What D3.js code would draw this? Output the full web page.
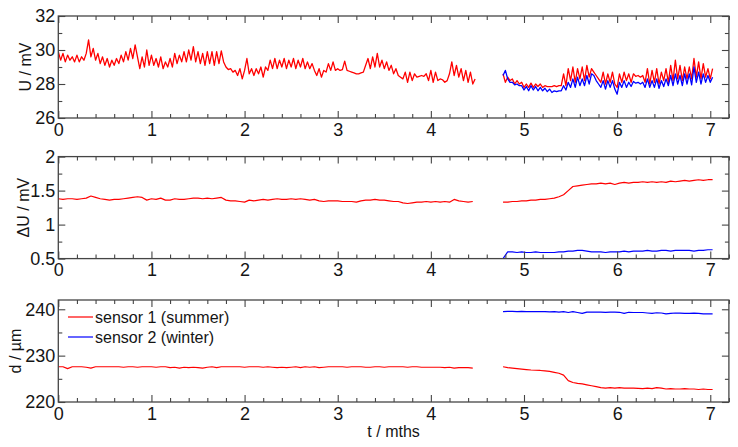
<!DOCTYPE html>
<html><head><meta charset="utf-8">
<script src="https://cdn.jsdelivr.net/npm/d3@7"></script>
<style>
body{margin:0;background:#fff}
svg{display:block}
text{font-family:"Liberation Sans",Arial,sans-serif;fill:#151515}
</style>
</head><body>
<svg id="c" width="738" height="447"></svg>
<script>
// ---------------- data ----------------
const xDomain = [0, 7.2];
const xMajor = [0, 1, 2, 3, 4, 5, 6, 7];
const xMinor = [0.2,0.4,0.6,0.8,1.2,1.4,1.6,1.8,2.2,2.4,2.6,2.8,3.2,3.4,3.6,3.8,4.2,4.4,4.6,4.8,5.2,5.4,5.6,5.8,6.2,6.4,6.6,6.8,7.2];
const xTitle = "t / mths";
const seriesNames = ["sensor 1 (summer)", "sensor 2 (winter)"];
const seriesColors = ["#ff0000", "#0000ff"];

// Panel 1: U / mV  (sampled every 0.025 months)
const uStep = 0.025;
const uStartA = 0;      // sensor 1, first run
const uStartB = 4.775;  // second run (both sensors)
const u1A = [
29.9,29.4,29.8,29.3,29.7,29.4,29.6,29.3,
29.7,29.3,29.6,29.4,29.8,30.6,29.6,30.1,
29.4,29.8,29.2,29.6,29.1,29.5,29.0,29.4,
29.1,29.5,29.2,29.7,29.3,29.9,29.4,30.1,
29.5,30.3,29.6,28.9,29.6,29.0,30.0,29.1,
29.7,29.1,29.5,29.0,29.6,28.9,29.3,29.0,
29.5,29.0,29.8,29.2,29.7,29.3,29.9,29.3,
30.0,29.4,30.2,29.3,29.9,29.2,29.8,29.1,
29.9,29.2,29.9,29.1,29.9,29.2,29.95,29.3,
29.0,28.85,28.9,28.7,28.8,28.5,28.9,28.3,
28.8,29.5,28.6,28.9,28.5,28.9,28.6,29.0,
28.4,29.0,28.8,29.4,28.9,29.5,28.9,29.4,
29.0,29.5,28.9,29.4,29.0,29.5,28.9,29.4,
29.0,29.5,28.9,29.3,28.9,29.2,28.8,28.5,
28.9,28.4,28.8,28.7,29.2,28.8,29.3,28.8,
28.9,28.8,28.85,29.35,28.8,28.75,28.7,28.65,
28.6,28.6,28.65,28.7,29.1,29.5,28.9,29.6,
29.0,29.8,29.0,29.4,28.9,29.3,28.8,29.1,
28.6,28.9,28.5,28.4,28.3,28.7,28.1,28.7,
28.2,28.6,28.4,28.45,28.5,28.45,28.6,28.2,
28.8,28.1,28.7,28.2,28.3,28.25,28.1,28.2,
28.6,29.3,28.5,29.1,28.4,28.9,28.2,28.8,
28.1,28.7,28.0,28.3
];
const u1B = [
28.6,28.1,28.4,28.2,28.3,28.0,28.2,28.0,
28.1,27.8,28.0,27.8,28.05,27.8,28.0,27.85,
28.0,27.8,27.9,27.85,27.85,27.85,27.9,27.85,
27.9,27.9,28.6,27.9,28.9,28.2,29.0,28.1,
28.9,28.3,29.0,28.2,29.1,28.4,28.9,28.7,
28.5,28.3,28.1,28.7,28.0,28.6,28.1,28.7,
28.0,27.8,28.6,28.1,28.7,28.2,28.6,28.1,
28.6,28.45,28.5,28.4,28.5,28.1,28.9,28.0,
28.8,28.1,28.9,28.0,28.7,28.2,28.9,28.1,
29.1,28.2,29.4,28.3,29.1,28.2,29.0,28.3,
29.0,28.3,29.5,28.4,29.3,28.3,29.2,28.4,
28.9,28.3,28.9
];
const u2B = [
28.5,28.8,28.3,28.1,28.1,27.95,28.0,27.9,
27.9,27.65,27.85,27.6,27.9,27.65,27.85,27.6,
27.8,27.6,27.75,27.55,27.7,27.5,27.6,27.55,
27.6,27.6,27.9,27.65,28.1,27.8,28.3,27.8,
28.4,27.9,28.3,27.9,28.5,28.0,28.6,28.5,
28.2,28.0,27.8,28.2,27.7,28.2,27.8,28.2,
27.7,27.4,28.1,27.8,28.2,27.8,28.1,27.85,
28.15,28.05,28.1,28.0,28.1,27.8,28.3,27.8,
28.2,27.8,28.3,27.75,28.2,27.85,28.3,27.9,
28.5,27.9,28.6,28.0,28.5,27.9,28.6,28.0,
28.6,27.95,29.0,28.1,28.7,28.0,28.6,28.1,
28.5,28.1,28.4
];

// Panels 2 and 3: sampled every 0.05 months
const sStep = 0.05;
const sStartA = 0;
const sStartB = 4.775;
const dU1A = [
1.38,1.37,1.38,1.38,1.37,1.38,1.39,1.42,1.40,1.38,
1.37,1.36,1.37,1.37,1.38,1.39,1.40,1.41,1.40,1.36,
1.38,1.37,1.39,1.36,1.36,1.38,1.37,1.37,1.38,1.39,
1.39,1.38,1.39,1.38,1.39,1.40,1.36,1.35,1.35,1.34,
1.33,1.36,1.35,1.36,1.37,1.36,1.37,1.38,1.37,1.37,
1.38,1.37,1.38,1.37,1.36,1.37,1.35,1.34,1.35,1.35,
1.35,1.34,1.34,1.34,1.33,1.35,1.36,1.36,1.37,1.36,
1.36,1.35,1.34,1.34,1.32,1.31,1.32,1.33,1.33,1.34,
1.33,1.34,1.33,1.34,1.33,1.37,1.35,1.34,1.33,1.34
];
const dU1B = [
1.33,1.33,1.34,1.34,1.35,1.35,1.36,1.36,1.37,1.37,
1.38,1.39,1.41,1.44,1.50,1.56,1.57,1.58,1.59,1.60,
1.60,1.61,1.60,1.61,1.59,1.61,1.62,1.61,1.62,1.62,
1.63,1.62,1.63,1.62,1.63,1.62,1.64,1.63,1.64,1.65,
1.64,1.65,1.66,1.65,1.66,1.66
];
const dU2B = [
0.50,0.60,0.60,0.59,0.60,0.59,0.59,0.60,0.59,0.59,
0.59,0.59,0.60,0.60,0.61,0.61,0.62,0.62,0.61,0.60,
0.60,0.60,0.59,0.60,0.60,0.60,0.61,0.60,0.61,0.61,
0.61,0.62,0.61,0.61,0.62,0.62,0.61,0.62,0.62,0.62,
0.62,0.61,0.62,0.62,0.63,0.63
];
const d1A = [
227.6,227.6,227.2,227.6,227.6,227.6,227.5,227.3,227.6,227.6,
227.6,227.6,227.6,227.6,227.5,227.6,227.6,227.5,227.6,227.6,
227.6,227.5,227.6,227.6,227.4,227.5,227.3,227.5,227.4,227.5,
227.4,227.3,227.5,227.6,227.4,227.6,227.6,227.6,227.6,227.6,
227.5,227.6,227.6,227.6,227.5,227.6,227.5,227.4,227.5,227.4,
227.5,227.6,227.4,227.6,227.5,227.6,227.4,227.5,227.6,227.6,
227.6,227.6,227.5,227.6,227.6,227.6,227.5,227.5,227.6,227.6,
227.5,227.6,227.6,227.6,227.6,227.5,227.6,227.6,227.5,227.5,
227.5,227.5,227.5,227.4,227.5,227.3,227.4,227.4,227.4,227.3
];
const d1B = [
227.6,227.4,227.3,227.2,227.1,227.0,226.9,226.85,226.8,226.7,
226.6,226.4,226.2,225.8,224.6,224.2,224.0,223.9,223.7,223.5,
223.3,223.1,223.0,223.1,223.0,223.1,223.0,223.0,223.0,222.95,
222.9,223.0,222.9,223.1,223.0,222.8,222.9,222.8,222.8,222.9,
222.8,222.8,222.7,222.8,222.7,222.7
];
const d2B = [
239.5,239.55,239.55,239.5,239.55,239.5,239.5,239.5,239.5,239.5,
239.45,239.5,239.4,239.5,239.3,239.5,239.3,239.1,239.4,239.4,
239.4,239.4,239.35,239.4,239.4,239.35,239.1,239.35,239.3,239.3,
239.3,239.2,239.1,239.25,239.2,239.0,239.1,239.2,239.15,239.1,
239.1,239.15,239.1,239.0,239.0,239.0
];

const yTitles = ["U / mV", "\u0394U / mV", "d / \u00b5m"];
const yDomains = [[26, 32], [0.5, 2], [220, 242]];
const yMajors = [[26, 28, 30, 32], [0.5, 1, 1.5, 2], [220, 230, 240]];
const yMinors = [[27, 29, 31], [0.75, 1.25, 1.75], [225, 235]];
const yFormats = [d3.format("d"), d => String(d), d3.format("d")];

// ---------------- layout ----------------
const svg = d3.select("#c");
const left = 58.3, right = 728.9;
const panelTops = [16, 156.6, 300];
const panelH = 102;
const titleX = [31, 29, 21];
const x = d3.scaleLinear().domain(xDomain).range([left, right]);
const W = right - left;
const frameColor = "#454545";
const MAJ = 7, MIN = 4;
const tickFont = 18;

const panels = [
  {series: [
    {start: uStartA, step: uStep, values: u1A, color: 0},
    {start: uStartB, step: uStep, values: u1B, color: 0},
    {start: uStartB, step: uStep, values: u2B, color: 1}
  ], width: 1.3},
  {series: [
    {start: sStartA, step: sStep, values: dU1A, color: 0},
    {start: sStartB, step: sStep, values: dU1B, color: 0},
    {start: sStartB, step: sStep, values: dU2B, color: 1}
  ], width: 1.2},
  {series: [
    {start: sStartA, step: sStep, values: d1A, color: 0},
    {start: sStartB, step: sStep, values: d1B, color: 0},
    {start: sStartB, step: sStep, values: d2B, color: 1}
  ], width: 1.2}
];

function styleAxis(g) {
  g.select(".domain").remove();
  g.selectAll(".tick line").attr("stroke", frameColor).attr("stroke-width", 1.1);
  g.selectAll("text").attr("font-size", tickFont).attr("fill", "#151515")
    .attr("font-family", '"Liberation Sans", Arial, sans-serif');
}

panels.forEach((p, k) => {
  const top = panelTops[k], bot = top + panelH;
  const y = d3.scaleLinear().domain(yDomains[k]).range([bot, top]);
  const g = svg.append("g");

  const clipId = "clip" + k;
  svg.append("clipPath").attr("id", clipId).append("rect")
    .attr("x", left).attr("y", top).attr("width", W).attr("height", panelH);
  const lg = g.append("g").attr("clip-path", `url(#${clipId})`);
  p.series.forEach(s => {
    const line = d3.line()
      .x((v, i) => x(s.start + i * s.step))
      .y(v => y(v));
    lg.append("path").attr("d", line(s.values))
      .attr("fill", "none")
      .attr("stroke", seriesColors[s.color])
      .attr("stroke-width", p.width)
      .attr("stroke-linejoin", "round");
  });

  const bx = g.append("g").attr("transform", `translate(0,${bot})`)
    .call(d3.axisBottom(x).tickValues(xMajor).tickFormat(d3.format("d")).tickSize(-MAJ).tickPadding(5));
  styleAxis(bx);
  const bxm = g.append("g").attr("transform", `translate(0,${bot})`)
    .call(d3.axisBottom(x).tickValues(xMinor).tickFormat("").tickSize(-MIN));
  styleAxis(bxm);
  const tx = g.append("g").attr("transform", `translate(0,${top})`)
    .call(d3.axisTop(x).tickValues(xMajor).tickFormat("").tickSize(-MAJ));
  styleAxis(tx);
  const txm = g.append("g").attr("transform", `translate(0,${top})`)
    .call(d3.axisTop(x).tickValues(xMinor).tickFormat("").tickSize(-MIN));
  styleAxis(txm);

  const ly = g.append("g").attr("transform", `translate(${left},0)`)
    .call(d3.axisLeft(y).tickValues(yMajors[k]).tickFormat(yFormats[k]).tickSize(-MAJ).tickPadding(3));
  styleAxis(ly);
  const lym = g.append("g").attr("transform", `translate(${left},0)`)
    .call(d3.axisLeft(y).tickValues(yMinors[k]).tickFormat("").tickSize(-MIN));
  styleAxis(lym);
  const ry = g.append("g").attr("transform", `translate(${right},0)`)
    .call(d3.axisRight(y).tickValues(yMajors[k]).tickFormat("").tickSize(-MAJ));
  styleAxis(ry);
  const rym = g.append("g").attr("transform", `translate(${right},0)`)
    .call(d3.axisRight(y).tickValues(yMinors[k]).tickFormat("").tickSize(-MIN));
  styleAxis(rym);

  g.append("rect").attr("x", left).attr("y", top).attr("width", W).attr("height", panelH)
    .attr("fill", "none").attr("stroke", frameColor).attr("stroke-width", 1.3);

  g.append("text")
    .attr("transform", `translate(${titleX[k]},${(top + bot) / 2}) rotate(-90)`)
    .attr("text-anchor", "middle")
    .attr("font-size", 16)
    .text(yTitles[k]);

  if (k === 2) {
    seriesNames.forEach((name, j) => {
      const ly0 = 317 + j * 20;
      g.append("line").attr("x1", 68).attr("x2", 93).attr("y1", ly0).attr("y2", ly0)
        .attr("stroke", seriesColors[j]).attr("stroke-width", 1.2);
      g.append("text").attr("x", 95).attr("y", ly0).attr("dy", "0.35em")
        .attr("font-size", 16).text(name);
    });
  }
});

svg.append("text").attr("x", (left + right) / 2).attr("y", 437)
  .attr("text-anchor", "middle").attr("font-size", 16).text(xTitle);
</script>
</body></html>
